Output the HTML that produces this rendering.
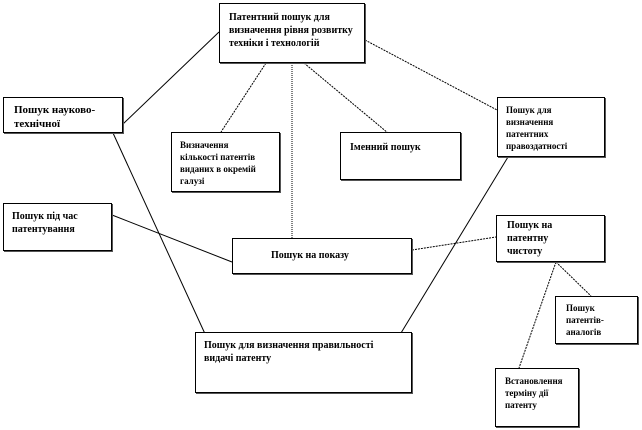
<!DOCTYPE html>
<html><head><meta charset="utf-8"><style>
body{margin:0;width:642px;height:430px;background:#fff;position:relative;overflow:hidden;font-family:"Liberation Serif","DejaVu Serif",serif;font-weight:bold;color:#000}
.b{position:absolute;border:1px solid #000;box-shadow:1px 1px 0 #555;background:#fff;box-sizing:border-box;font-size:10px;line-height:13px;white-space:nowrap}
svg{position:absolute;left:0;top:0}
</style></head><body>
<svg width="642" height="430">
<g stroke="#000" stroke-width="1" fill="none">
<line x1="219" y1="32" x2="123" y2="124"/>
<line x1="266" y1="63" x2="221" y2="132" stroke-dasharray="2,1"/>
<line x1="292" y1="63" x2="292" y2="238" stroke-dasharray="1,1"/>
<line x1="304" y1="63" x2="388" y2="133" stroke-dasharray="2,1"/>
<line x1="365" y1="40" x2="497" y2="110" stroke-dasharray="2,1"/>
<line x1="113" y1="133" x2="206" y2="336"/>
<line x1="508" y1="157" x2="401" y2="333"/>
<line x1="112" y1="215" x2="232" y2="262"/>
<line x1="412" y1="250" x2="496" y2="237" stroke-dasharray="2,1"/>
<line x1="556" y1="262" x2="591" y2="296" stroke-dasharray="2,1"/>
<line x1="556" y1="262" x2="519" y2="368" stroke-dasharray="2,1"/>
</g></svg>
<div class="b" style="left:219px;top:3px;width:146px;height:60px;padding:7px 0 0 9px">Патентний пошук для<br>визначення рівня розвитку<br>техніки і технологій</div>
<div class="b" style="left:3px;top:97px;width:120px;height:36px;padding:5px 0 0 10px;font-size:11px;line-height:14px">Пошук науково-<br>технічної</div>
<div class="b" style="left:171px;top:132px;width:109px;height:60px;padding:6px 0 0 8px;font-size:9px;line-height:12px">Визначення<br>кількості патентів<br>виданих в окремій<br>галузі</div>
<div class="b" style="left:340px;top:132px;width:121px;height:48px;padding:8px 0 0 9px">Іменний  пошук</div>
<div class="b" style="left:497px;top:97px;width:108px;height:60px;padding:6px 0 0 8px;font-size:9px;line-height:12px">Пошук для<br>визначення<br>патентних<br>правоздатності</div>
<div class="b" style="left:3px;top:203px;width:109px;height:48px;padding:6px 0 0 8px">Пошук під час<br>патентування</div>
<div class="b" style="left:232px;top:238px;width:180px;height:36px;padding:10px 0 0 38px">Пошук на показу</div>
<div class="b" style="left:496px;top:215px;width:109px;height:47px;padding:3px 0 0 10px;line-height:13px">Пошук на<br>патентну<br>чистоту</div>
<div class="b" style="left:555px;top:296px;width:83px;height:48px;padding:5px 0 0 10px;font-size:9px;line-height:12px">Пошук<br>патентів-<br>аналогів</div>
<div class="b" style="left:195px;top:332px;width:217px;height:61px;padding:6px 0 0 8px">Пошук для визначення  правильності<br>видачі патенту</div>
<div class="b" style="left:495px;top:368px;width:84px;height:59px;padding:6px 0 0 9px;font-size:9px;line-height:12px">Встановлення<br>терміну дії<br>патенту</div>
</body></html>
